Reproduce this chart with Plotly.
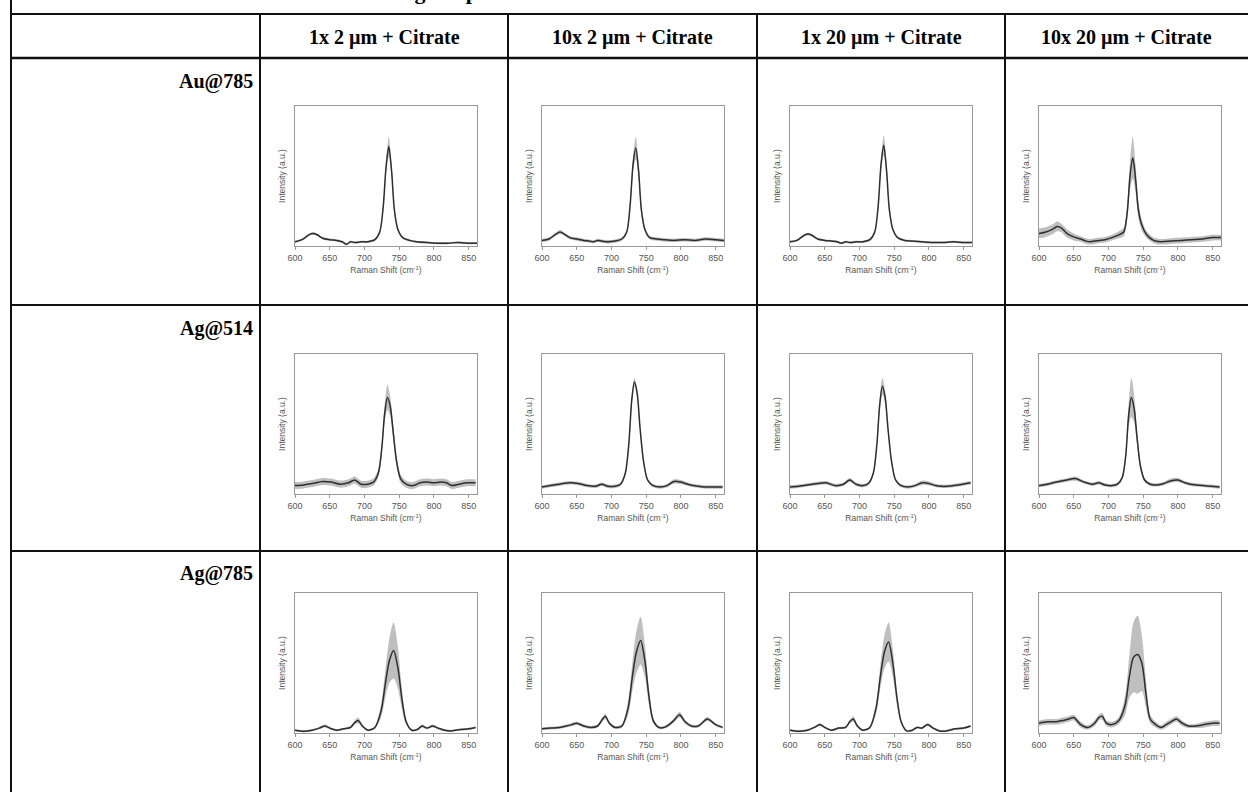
import plotly.graph_objects as go

# ---------------- table text ----------------
title_text = "Enhancing the performance"
col_headers = ["1x 2 µm + Citrate", "10x 2 µm + Citrate", "1x 20 µm + Citrate", "10x 20 µm + Citrate"]
row_headers = ["Au@785", "Ag@514", "Ag@785"]
x_tick_vals = [600, 650, 700, 750, 800, 850]
x_title = "Raman Shift (cm<sup>-1</sup>)"
y_title = "Intensity (a.u.)"

# ---------------- data (normalised intensity) ----------------
# Au@785 row
shift_au785 = [600, 610, 620, 626, 632, 640, 650, 660, 668, 674, 680, 686, 695, 705, 715, 722, 727, 731, 735, 739, 743, 748, 755, 765, 775, 790, 805, 820, 835, 850, 862]
au785_1x2_mean = [0.03, 0.045, 0.08, 0.09, 0.08, 0.055, 0.045, 0.04, 0.03, 0.012, 0.03, 0.025, 0.03, 0.03, 0.045, 0.1, 0.28, 0.56, 0.71, 0.54, 0.26, 0.12, 0.06, 0.04, 0.03, 0.025, 0.02, 0.02, 0.025, 0.02, 0.02]
au785_1x2_sd = [0.008, 0.008, 0.008, 0.01, 0.008, 0.008, 0.008, 0.008, 0.008, 0.008, 0.008, 0.008, 0.008, 0.008, 0.008, 0.01, 0.02, 0.04, 0.07, 0.04, 0.02, 0.01, 0.008, 0.008, 0.008, 0.008, 0.008, 0.008, 0.008, 0.008, 0.008]
au785_10x2_mean = [0.04, 0.05, 0.085, 0.1, 0.085, 0.06, 0.05, 0.04, 0.035, 0.03, 0.04, 0.035, 0.03, 0.035, 0.05, 0.1, 0.3, 0.58, 0.7, 0.54, 0.26, 0.12, 0.06, 0.05, 0.045, 0.04, 0.045, 0.04, 0.05, 0.045, 0.04]
au785_10x2_sd = [0.012, 0.012, 0.012, 0.014, 0.012, 0.012, 0.012, 0.012, 0.012, 0.012, 0.012, 0.012, 0.012, 0.012, 0.012, 0.015, 0.03, 0.05, 0.08, 0.05, 0.03, 0.015, 0.012, 0.012, 0.012, 0.012, 0.012, 0.012, 0.012, 0.012, 0.012]
au785_1x20_mean = [0.03, 0.04, 0.075, 0.085, 0.075, 0.05, 0.04, 0.035, 0.03, 0.02, 0.03, 0.025, 0.03, 0.03, 0.045, 0.1, 0.29, 0.58, 0.72, 0.54, 0.26, 0.12, 0.06, 0.04, 0.035, 0.03, 0.025, 0.025, 0.03, 0.025, 0.025]
au785_1x20_sd = [0.008, 0.008, 0.008, 0.01, 0.008, 0.008, 0.008, 0.008, 0.008, 0.008, 0.008, 0.008, 0.008, 0.008, 0.008, 0.01, 0.02, 0.04, 0.07, 0.04, 0.02, 0.01, 0.008, 0.008, 0.008, 0.008, 0.008, 0.008, 0.008, 0.008, 0.008]
au785_10x20_mean = [0.09, 0.1, 0.12, 0.14, 0.13, 0.09, 0.065, 0.05, 0.035, 0.03, 0.035, 0.04, 0.045, 0.06, 0.08, 0.1, 0.24, 0.5, 0.63, 0.48, 0.26, 0.15, 0.08, 0.04, 0.03, 0.035, 0.04, 0.045, 0.05, 0.06, 0.06]
au785_10x20_sd = [0.035, 0.035, 0.035, 0.035, 0.03, 0.03, 0.025, 0.02, 0.02, 0.02, 0.02, 0.02, 0.02, 0.02, 0.025, 0.03, 0.05, 0.1, 0.15, 0.1, 0.06, 0.04, 0.025, 0.02, 0.02, 0.02, 0.02, 0.02, 0.02, 0.02, 0.02]

# Ag@514 row
shift_ag514 = [600, 612, 625, 640, 652, 665, 677, 686, 695, 705, 713, 720, 725, 729, 733, 737, 741, 746, 752, 760, 770, 780, 790, 800, 810, 818, 826, 836, 848, 860]
ag514_1x2_mean = [0.06, 0.065, 0.075, 0.09, 0.085, 0.07, 0.08, 0.1, 0.07, 0.07, 0.085, 0.15, 0.33, 0.57, 0.69, 0.63, 0.46, 0.24, 0.11, 0.07, 0.06, 0.08, 0.085, 0.08, 0.085, 0.08, 0.06, 0.07, 0.08, 0.08]
ag514_1x2_sd = [0.025, 0.025, 0.025, 0.025, 0.025, 0.025, 0.025, 0.025, 0.025, 0.025, 0.025, 0.03, 0.04, 0.06, 0.09, 0.07, 0.05, 0.035, 0.03, 0.025, 0.025, 0.025, 0.025, 0.025, 0.025, 0.025, 0.025, 0.025, 0.025, 0.025]
ag514_10x2_mean = [0.05, 0.06, 0.07, 0.08, 0.075, 0.06, 0.055, 0.07, 0.055, 0.055, 0.07, 0.15, 0.36, 0.66, 0.8, 0.72, 0.48, 0.24, 0.1, 0.06, 0.05, 0.06, 0.09, 0.085, 0.07, 0.06, 0.055, 0.05, 0.05, 0.05]
ag514_10x2_sd = [0.012, 0.012, 0.012, 0.012, 0.012, 0.012, 0.012, 0.012, 0.012, 0.012, 0.012, 0.015, 0.02, 0.03, 0.03, 0.03, 0.02, 0.015, 0.012, 0.012, 0.012, 0.012, 0.015, 0.015, 0.012, 0.012, 0.012, 0.012, 0.012, 0.012]
ag514_1x20_mean = [0.05, 0.055, 0.065, 0.075, 0.08, 0.06, 0.07, 0.1, 0.07, 0.06, 0.075, 0.15, 0.35, 0.63, 0.77, 0.69, 0.47, 0.24, 0.1, 0.06, 0.05, 0.06, 0.08, 0.075, 0.06, 0.055, 0.055, 0.06, 0.07, 0.08]
ag514_1x20_sd = [0.012, 0.012, 0.012, 0.012, 0.012, 0.012, 0.012, 0.015, 0.012, 0.012, 0.012, 0.015, 0.02, 0.04, 0.06, 0.045, 0.03, 0.015, 0.012, 0.012, 0.012, 0.012, 0.015, 0.015, 0.012, 0.012, 0.012, 0.012, 0.012, 0.012]
ag514_10x20_mean = [0.06, 0.07, 0.085, 0.1, 0.11, 0.085, 0.07, 0.08, 0.065, 0.06, 0.07, 0.12, 0.28, 0.56, 0.69, 0.61, 0.41, 0.2, 0.1, 0.07, 0.065, 0.075, 0.095, 0.1, 0.08, 0.07, 0.065, 0.06, 0.055, 0.05]
ag514_10x20_sd = [0.012, 0.012, 0.012, 0.012, 0.015, 0.012, 0.012, 0.012, 0.012, 0.012, 0.012, 0.015, 0.03, 0.08, 0.14, 0.1, 0.05, 0.02, 0.015, 0.012, 0.012, 0.012, 0.015, 0.015, 0.012, 0.012, 0.012, 0.012, 0.012, 0.012]

# Ag@785 row
shift_ag785 = [600, 612, 625, 635, 643, 650, 660, 670, 680, 686, 691, 697, 705, 715, 724, 730, 736, 742, 748, 754, 760, 768, 776, 783, 790, 798, 806, 815, 825, 838, 850, 860]
ag785_1x2_mean = [0.02, 0.012, 0.02, 0.035, 0.05, 0.035, 0.02, 0.03, 0.04, 0.075, 0.09, 0.05, 0.02, 0.04, 0.16, 0.35, 0.52, 0.59, 0.47, 0.24, 0.08, 0.02, 0.025, 0.05, 0.035, 0.05, 0.035, 0.02, 0.015, 0.025, 0.03, 0.04]
ag785_1x2_sd = [0.008, 0.008, 0.008, 0.008, 0.01, 0.008, 0.008, 0.008, 0.01, 0.015, 0.02, 0.01, 0.008, 0.01, 0.05, 0.1, 0.16, 0.2, 0.15, 0.07, 0.02, 0.008, 0.008, 0.01, 0.008, 0.01, 0.008, 0.008, 0.008, 0.008, 0.008, 0.008]
ag785_10x2_mean = [0.03, 0.035, 0.04, 0.05, 0.06, 0.07, 0.05, 0.04, 0.05, 0.09, 0.12, 0.07, 0.04, 0.05, 0.18, 0.4, 0.58, 0.66, 0.52, 0.26, 0.09, 0.04, 0.04, 0.06, 0.09, 0.13, 0.08, 0.05, 0.05, 0.1, 0.06, 0.04]
ag785_10x2_sd = [0.01, 0.01, 0.01, 0.01, 0.012, 0.012, 0.01, 0.01, 0.01, 0.015, 0.02, 0.012, 0.01, 0.012, 0.05, 0.1, 0.15, 0.17, 0.12, 0.06, 0.02, 0.01, 0.01, 0.012, 0.015, 0.02, 0.015, 0.01, 0.01, 0.015, 0.01, 0.01]
ag785_1x20_mean = [0.02, 0.012, 0.02, 0.04, 0.06, 0.04, 0.02, 0.035, 0.04, 0.08, 0.1, 0.05, 0.02, 0.04, 0.18, 0.4, 0.58, 0.65, 0.5, 0.25, 0.08, 0.015, 0.02, 0.04, 0.035, 0.06, 0.035, 0.015, 0.015, 0.03, 0.035, 0.05]
ag785_1x20_sd = [0.008, 0.008, 0.008, 0.008, 0.01, 0.008, 0.008, 0.008, 0.008, 0.012, 0.02, 0.01, 0.008, 0.01, 0.04, 0.08, 0.12, 0.14, 0.1, 0.05, 0.015, 0.008, 0.008, 0.008, 0.008, 0.01, 0.008, 0.008, 0.008, 0.008, 0.008, 0.008]
ag785_10x20_mean = [0.07, 0.08, 0.08, 0.09, 0.1, 0.11, 0.06, 0.04, 0.07, 0.11, 0.12, 0.07, 0.06, 0.09, 0.2, 0.4, 0.54, 0.56, 0.5, 0.28, 0.1, 0.06, 0.04, 0.06, 0.08, 0.1, 0.07, 0.05, 0.05, 0.06, 0.07, 0.07]
ag785_10x20_sd = [0.02, 0.02, 0.02, 0.02, 0.02, 0.02, 0.02, 0.015, 0.02, 0.02, 0.025, 0.02, 0.02, 0.025, 0.07, 0.15, 0.25, 0.28, 0.2, 0.1, 0.03, 0.02, 0.015, 0.02, 0.02, 0.02, 0.02, 0.015, 0.015, 0.02, 0.02, 0.02]

rows_data = [
    (shift_au785, [(au785_1x2_mean, au785_1x2_sd), (au785_10x2_mean, au785_10x2_sd),
                   (au785_1x20_mean, au785_1x20_sd), (au785_10x20_mean, au785_10x20_sd)]),
    (shift_ag514, [(ag514_1x2_mean, ag514_1x2_sd), (ag514_10x2_mean, ag514_10x2_sd),
                   (ag514_1x20_mean, ag514_1x20_sd), (ag514_10x20_mean, ag514_10x20_sd)]),
    (shift_ag785, [(ag785_1x2_mean, ag785_1x2_sd), (ag785_10x2_mean, ag785_10x2_sd),
                   (ag785_1x20_mean, ag785_1x20_sd), (ag785_10x20_mean, ag785_10x20_sd)]),
]

# ---------------- layout geometry (pixels) ----------------
W, H = 1248, 792
frame_left = [295, 542, 790, 1039]
frame_w = 182
frame_top = [106, 354, 593]
frame_h = 140
col_lines = [260, 508, 757, 1005]
row_lines = [58, 305, 551]
left_edge = 11
top_line = 14


def fx(px):
    return px / W


def fy(py):
    return 1 - py / H


fig = go.Figure()
layout_axes = {}
idx = 0
for r, (shift, specs) in enumerate(rows_data):
    for c, (mean, sd) in enumerate(specs):
        idx += 1
        xa = "x" if idx == 1 else f"x{idx}"
        ya = "y" if idx == 1 else f"y{idx}"
        lower = [m - s for m, s in zip(mean, sd)]
        upper = [m + s for m, s in zip(mean, sd)]
        fig.add_trace(go.Scatter(x=shift, y=lower, mode="lines", line=dict(width=0, shape="spline", smoothing=0.8),
                                 xaxis=xa, yaxis=ya, showlegend=False, hoverinfo="skip"))
        fig.add_trace(go.Scatter(x=shift, y=upper, mode="lines", line=dict(width=0, shape="spline", smoothing=0.8),
                                 fill="tonexty", fillcolor="rgba(170,170,170,0.75)",
                                 xaxis=xa, yaxis=ya, showlegend=False, hoverinfo="skip"))
        fig.add_trace(go.Scatter(x=shift, y=mean, mode="lines", line=dict(width=1.5, color="#2e2e2e", shape="spline", smoothing=0.8),
                                 xaxis=xa, yaxis=ya, showlegend=False))
        x0 = fx(frame_left[c]); x1 = fx(frame_left[c] + frame_w)
        y1 = fy(frame_top[r]); y0 = fy(frame_top[r] + frame_h)
        xkey = "xaxis" if idx == 1 else f"xaxis{idx}"
        ykey = "yaxis" if idx == 1 else f"yaxis{idx}"
        layout_axes[xkey] = dict(domain=[x0, x1], anchor=ya, range=[600, 862], tickvals=x_tick_vals,
                                 ticks="outside", ticklen=3, tickcolor="#999", tickwidth=1,
                                 showline=True, linecolor="#999", linewidth=1, mirror=True,
                                 showgrid=False, zeroline=False, automargin=False,
                                 tickfont=dict(family="Liberation Sans, Arial", size=9, color="#555"),
                                 title=dict(text=x_title, standoff=5,
                                            font=dict(family="Liberation Sans, Arial", size=8.5, color="#555")))
        layout_axes[ykey] = dict(domain=[y0, y1], anchor=xa, range=[0, 1], showticklabels=False, ticks="",
                                 showline=True, linecolor="#999", linewidth=1, mirror=True,
                                 showgrid=False, zeroline=False, automargin=False,
                                 title=dict(text=y_title, standoff=7,
                                            font=dict(family="Liberation Sans, Arial", size=8.5, color="#555")))

# ---------------- table lines ----------------
shapes = []
lw = 2
line_col = "#111111"
shapes.append(dict(type="line", xref="paper", yref="paper", x0=fx(left_edge), x1=1, y0=fy(top_line), y1=fy(top_line), line=dict(color=line_col, width=lw)))
for i, ry in enumerate(row_lines):
    shapes.append(dict(type="line", xref="paper", yref="paper", x0=fx(left_edge), x1=1, y0=fy(ry), y1=fy(ry),
                       line=dict(color=line_col, width=2.6 if i == 0 else lw)))
shapes.append(dict(type="line", xref="paper", yref="paper", x0=fx(left_edge), x1=fx(left_edge), y0=0, y1=1, line=dict(color=line_col, width=lw)))
for cx in col_lines:
    shapes.append(dict(type="line", xref="paper", yref="paper", x0=fx(cx), x1=fx(cx), y0=0, y1=fy(top_line), line=dict(color=line_col, width=lw)))

# ---------------- text ----------------
annotations = []
head_font = dict(family="Liberation Serif, Times New Roman", size=20, color="#000")
bounds = col_lines + [W]
for c, name in enumerate(col_headers):
    annotations.append(dict(text=f"<b>{name}</b>", xref="paper", yref="paper",
                            x=fx((bounds[c] + bounds[c + 1]) / 2), y=fy(37), xanchor="center", yanchor="middle",
                            showarrow=False, font=head_font))
row_label_y = [81, 328, 573]
for r, name in enumerate(row_headers):
    annotations.append(dict(text=f"<b>{name}</b>", xref="paper", yref="paper",
                            x=fx(255), y=fy(row_label_y[r]), xanchor="right", yanchor="middle",
                            showarrow=False, font=head_font))
annotations.append(dict(text=f"<b>{title_text}</b>", xref="paper", yref="paper",
                        x=fx(322), y=fy(-8), xanchor="left", yanchor="middle",
                        showarrow=False, font=dict(family="Liberation Serif, Times New Roman", size=22, color="#000")))

fig.update_layout(width=W, height=H, autosize=False, margin=dict(l=0, r=0, t=0, b=0),
                  paper_bgcolor="white", plot_bgcolor="white",
                  shapes=shapes, annotations=annotations, **layout_axes)

fig.write_html("out.html", config={"displayModeBar": False},
               post_script="document.body.style.margin='0px';document.body.style.overflow='hidden';")
